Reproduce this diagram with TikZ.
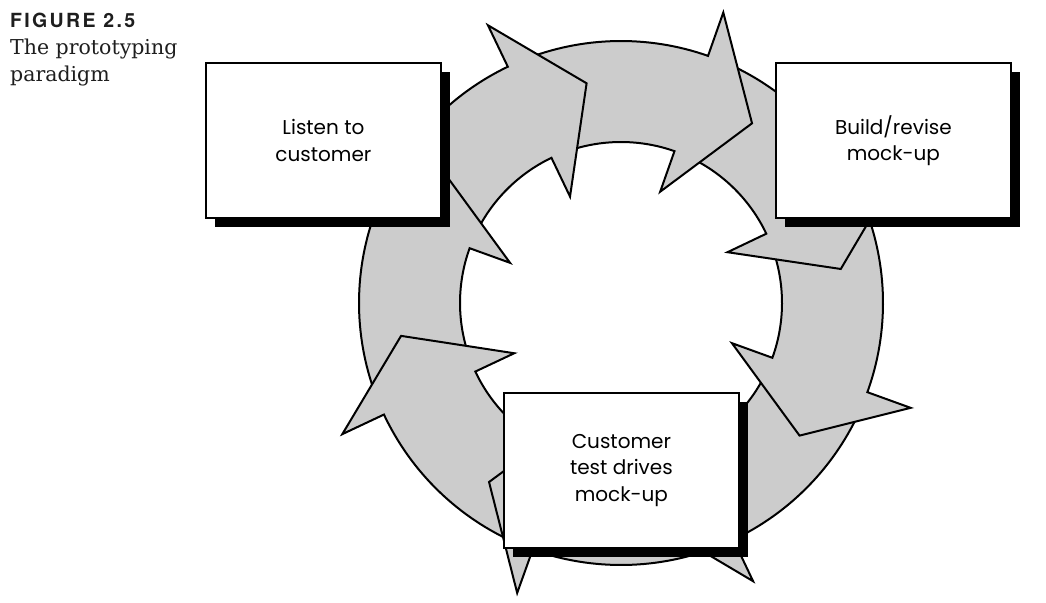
\documentclass[tikz,border=0pt]{standalone}
\usepackage{fontspec}
\usetikzlibrary{shadows}
\newfontfamily\boxfont{Poppins}
\newfontfamily\figfont{TeX Gyre Heros}[LetterSpace=12]
\newfontfamily\capfont{DejaVu Serif}
\definecolor{ringgray}{RGB}{204,204,204}
\definecolor{titlegray}{RGB}{30,30,30}
\begin{document}
\begin{tikzpicture}[x=1pt,y=1pt,
  ringarrow/.style={fill=ringgray, draw=black, line width=2pt, line join=miter, miter limit=10},
  stepbox/.style={draw=black, fill=white, line width=2pt,
    minimum width=235pt, minimum height=155pt, align=center, inner sep=0pt,
    font=\boxfont\fontsize{20}{26.7}\selectfont,
    general shadow={fill=black, draw=none, shadow xshift=9pt, shadow yshift=-9pt}},
  figlabel/.style={anchor=base west, inner sep=0pt, text=titlegray, font=\figfont\bfseries\fontsize{19.5}{22}\selectfont},
  captext/.style={anchor=north west, inner sep=0pt, align=left, text=titlegray, font=\capfont\fontsize{20.5}{27}\selectfont}
]
\useasboundingbox (0,0) rectangle (1046,-602);
\fill[white] (0,0) rectangle (1046,-602);

% ring of eight arrows, drawn so that each head lies over the next tail
\begin{scope}[shift={(621,-303)}]
  \foreach \h/\t in {-64.6/-23.4, -19.9/22, 25.5/67.1, 70.6/112.1, 115.6/156.6, 160.1/201.7, 205.2/246.8, 250.3/291.9}{
    \draw[ringarrow] (\t:262pt) arc[start angle=\t, end angle=\h, radius=262pt]
      -- (\h:308pt) -- ({\h-16.7}:222.4pt) -- (\h:118pt) -- (\h:161pt)
      arc[start angle=\h, end angle=\t, radius=161pt] -- cycle;
  }
\end{scope}

% boxes
\node[stepbox] (listen) at (323.4,-140.6) {Listen to\\customer};
\node[stepbox] (build) at (893.4,-140.6) {Build/revise\\mock-up};
\node[stepbox] (test) at (621.4,-470.4) {Customer\\test drives\\mock-up};

% figure caption
\node[figlabel] (fig) at (10,-28) {FIGURE 2.5};
\node[captext] (cap) at (10,-38.5) {The prototyping\\paradigm};
\end{tikzpicture}
\end{document}
